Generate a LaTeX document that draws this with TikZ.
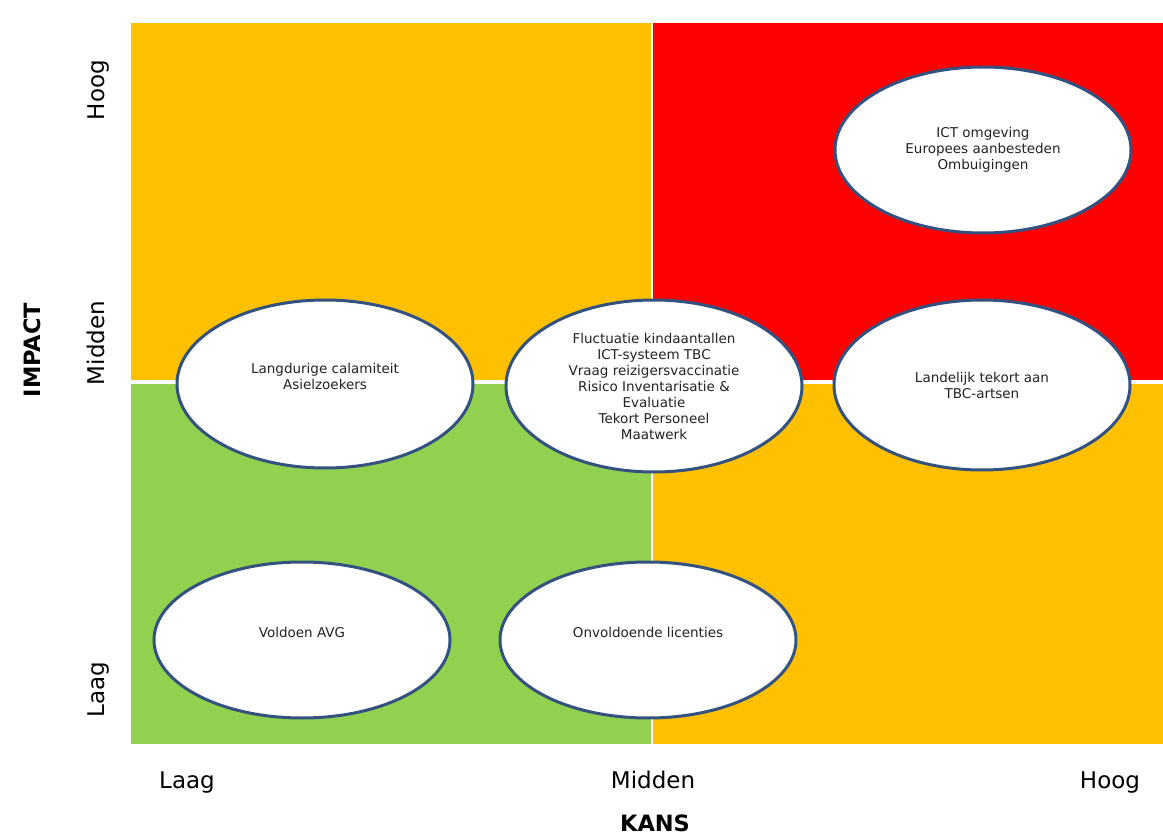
\documentclass[tikz,border=0pt]{standalone}
\usepackage{fontspec}
\setmainfont{DejaVu Sans}
\usetikzlibrary{shapes.geometric}
\definecolor{qorange}{HTML}{FFC000}
\definecolor{qred}{HTML}{FF0000}
\definecolor{qgreen}{HTML}{92D050}
\definecolor{qedge}{HTML}{34527F}
\definecolor{qtext}{HTML}{222222}
\begin{document}
\begin{tikzpicture}[x=1pt,y=-1pt,
  risk/.style={ellipse, draw=qedge, line width=3pt, fill=white, inner sep=0pt, minimum width=296pt},
  risktext/.style={font=\fontsize{13.5}{16}\selectfont, text=qtext, align=center, inner sep=0pt},
  axislab/.style={font=\fontsize{23}{26}\selectfont, text=black, inner sep=0pt, anchor=base},
  axistitle/.style={font=\bfseries\fontsize{22.5}{26}\selectfont, text=black, inner sep=0pt, anchor=base}]
\useasboundingbox (0,0) rectangle (1163,837);
\fill[white] (0,0) rectangle (1163,837);
% quadrants
\fill[qorange] (131,23) rectangle (652,382);
\fill[qred] (652,23) rectangle (1163,382);
\fill[qgreen] (131,382) rectangle (652,744);
\fill[qorange] (652,382) rectangle (1163,744);
\draw[white, line width=4pt] (131,382) -- (1163,382);
\draw[white, line width=1.5pt] (652,23) -- (652,744);
% risk ellipses
\node[risk, minimum height=166pt] (ict) at (983,150) {};
\node[risk, minimum height=168pt] (lang) at (325,384) {};
\node[risk, minimum height=172pt] (fluc) at (654,386) {};
\node[risk, minimum height=170pt] (land) at (982,385) {};
\node[risk, minimum height=156pt] (avg) at (302,640) {};
\node[risk, minimum height=156pt] (lic) at (648,640) {};
% texts
\node[risktext] (tict) at (ict.center) {ICT omgeving\\Europees aanbesteden\\Ombuigingen};
\node[risktext, yshift=8pt] (tlang) at (lang.center) {Langdurige calamiteit\\Asielzoekers};
\node[risktext] (tfluc) at (fluc.center) {Fluctuatie kindaantallen\\ICT-systeem TBC\\Vraag reizigersvaccinatie\\Risico Inventarisatie \&\\Evaluatie\\Tekort Personeel\\Maatwerk};
\node[risktext] (tland) at (land.center) {Landelijk tekort aan\\TBC-artsen};
\node[risktext, yshift=8pt] (tavg) at (avg.center) {Voldoen AVG};
\node[risktext, yshift=8pt] (tlic) at (lic.center) {Onvoldoende licenties};
% axis labels
\node[axislab, rotate=90] (yh) at (104,90) {Hoog};
\node[axislab, rotate=90] (ym) at (104,343) {Midden};
\node[axislab, rotate=90] (yl) at (104,690) {Laag};
\node[axistitle, rotate=90] (yt) at (40,350) {IMPACT};
\node[axislab] (xl) at (187,788) {Laag};
\node[axislab] (xm) at (653,788) {Midden};
\node[axislab] (xh) at (1110,788) {Hoog};
\node[axistitle] (xt) at (655,831) {KANS};
\end{tikzpicture}
\end{document}
